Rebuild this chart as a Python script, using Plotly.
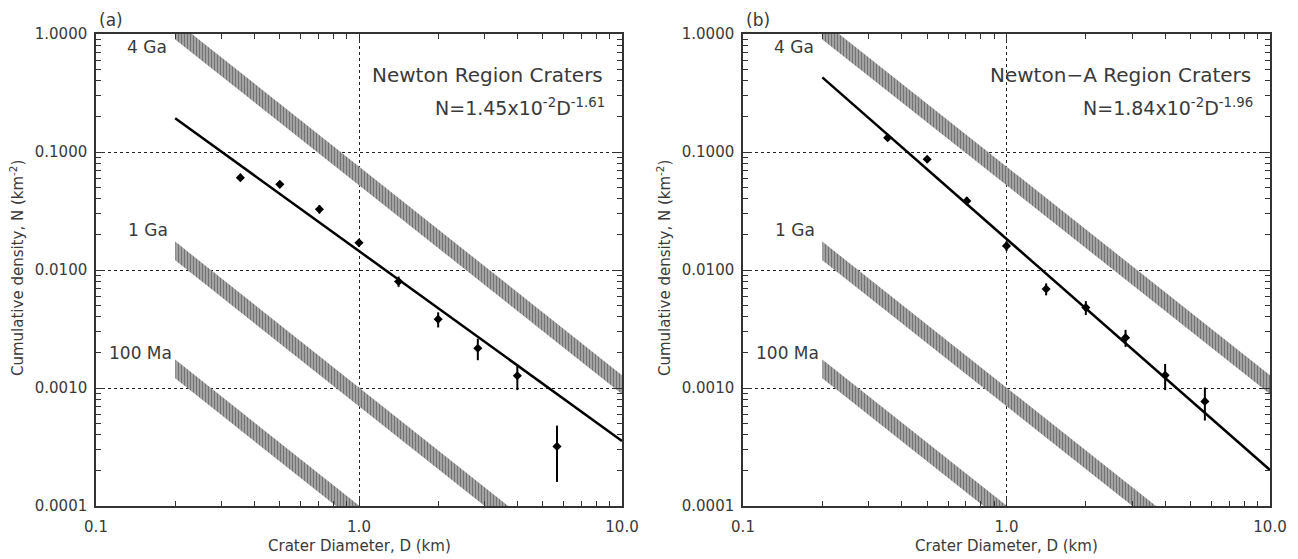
import plotly.graph_objects as go

# ---------------- data ----------------
D_bins = [0.354, 0.5, 0.707, 1.0, 1.414, 2.0, 2.83, 4.0, 5.66]

N_a = [0.0606, 0.0532, 0.0327, 0.0170, 0.0080, 0.00382, 0.00217, 0.00127, 0.00032]
err_a = [0.003, 0.003, 0.0026, 0.0012, 0.0008, 0.00056, 0.00045, 0.00031, 0.00016]

N_b = [0.132, 0.0867, 0.0385, 0.0160, 0.0069, 0.0048, 0.00267, 0.00128, 0.00077]
err_b = [0.007, 0.006, 0.003, 0.0015, 0.0008, 0.00065, 0.00044, 0.00032, 0.00024]

fit_D = [0.2, 10.0]
fit_a = [0.193, 3.56e-4]     # N = 1.45e-2 D^-1.61
fit_b = [0.429, 2.02e-4]     # N = 1.84e-2 D^-1.96

band_D = [0.2, 10.0]
band_4Ga = [1.08, 1.07e-3]
band_1Ga = [1.45e-2, 1.43e-5]
band_100Ma = [1.45e-3, 1.43e-6]
band_names = ["4 Ga", "1 Ga", "100 Ma"]

x_tickvals = [0.1, 1.0, 10.0]
x_ticktext = ["0.1", "1.0", "10.0"]
y_tickvals = [1.0, 0.1, 0.01, 0.001, 0.0001]
y_ticktext = ["1.0000", "0.1000", "0.0100", "0.0010", "0.0001"]

panel_labels = ["(a)", "(b)"]
panel_titles = ["Newton Region Craters", "Newton\u2212A Region Craters"]
panel_eqs = ["N=1.45x10<sup>-2</sup>D<sup>-1.61</sup>", "N=1.84x10<sup>-2</sup>D<sup>-1.96</sup>"]

# ---------------- style ----------------
W, H = 1298, 559
OFF = 8  # page body margin offset
TXT = "#3a3a3a"
FONT = "DejaVu Sans"
band_half = 1.2  # multiplicative half-width of isochron bands

def fx(p):
    return (p - OFF) / W

def fy(p):
    return 1 - (p - OFF) / H

fig = go.Figure()

x_minor = [m * 10 ** e for e in (-1, 0) for m in range(2, 10)]
y_minor = [m * 10 ** e for e in (-4, -3, -2, -1) for m in range(2, 10)]

def add_panel(idx, N, err, fit):
    xa = "x" if idx == 0 else "x2"
    ya = "y" if idx == 0 else "y2"
    for band in (band_4Ga, band_1Ga, band_100Ma):
        xs = [band_D[0], band_D[1], band_D[1], band_D[0], band_D[0]]
        ys = [band[0] * band_half, band[1] * band_half, band[1] / band_half,
              band[0] / band_half, band[0] * band_half]
        fig.add_trace(go.Scatter(
            x=xs, y=ys, xaxis=xa, yaxis=ya, mode="lines", fill="toself",
            line=dict(width=0, color="rgba(0,0,0,0)"),
            fillcolor="#a8a8a8",
            fillpattern=dict(shape="|", size=3, solidity=0.55,
                             fgcolor="#2e2e2e", bgcolor="#b8b8b8"),
            hoverinfo="skip", showlegend=False))
    fig.add_trace(go.Scatter(
        x=fit_D, y=fit, xaxis=xa, yaxis=ya, mode="lines",
        line=dict(color="black", width=2.5), showlegend=False))
    fig.add_trace(go.Scatter(
        x=D_bins, y=N, xaxis=xa, yaxis=ya, mode="markers",
        marker=dict(symbol="diamond", size=7, color="black"),
        error_y=dict(type="data", array=err, symmetric=True,
                     thickness=2, width=0, color="black"),
        showlegend=False))

add_panel(0, N_a, err_a, fit_a)
add_panel(1, N_b, err_b, fit_b)

px0 = [96, 743]
px1 = [622, 1270]
xdoms = [[fx(px0[0]), fx(px1[0])], [fx(px0[1]), fx(px1[1])]]
ydom = [fy(506), fy(34)]

common = dict(
    type="log", showline=True, linecolor="#333333", linewidth=1.5,
    mirror="ticks", ticks="inside", ticklen=9, tickcolor="#333333", tickwidth=1.2,
    showgrid=True, gridcolor="#222222", griddash="3px,3px", gridwidth=1,
    zeroline=False, automargin=False,
    tickfont=dict(family=FONT, size=15, color=TXT),
)

for i in range(2):
    sx = "" if i == 0 else "2"
    fig.update_layout(**{
        "xaxis" + sx: dict(common, domain=xdoms[i], range=[-1, 1],
                           tickmode="array", tickvals=x_tickvals, ticktext=x_ticktext,
                           anchor="y" + sx, ticklabelstandoff=6,
                           minor=dict(tickmode="array", tickvals=x_minor, ticks="inside",
                                      ticklen=5, tickcolor="#333333", showgrid=False)),
        "yaxis" + sx: dict(common, domain=ydom, range=[-4, 0],
                           tickmode="array", tickvals=y_tickvals, ticktext=y_ticktext,
                           anchor="x" + sx, ticklabelstandoff=4,
                           minor=dict(tickmode="array", tickvals=y_minor, ticks="inside",
                                      ticklen=5, tickcolor="#333333", showgrid=False)),
    })

ann = []
for i in range(2):
    ann.append(dict(text=panel_labels[i], xref="paper", yref="paper",
                    x=fx(px0[i] + 1), y=fy(20), xanchor="left", yanchor="middle",
                    showarrow=False, font=dict(family=FONT, size=17, color=TXT)))
    ann.append(dict(text=panel_titles[i], xref="paper", yref="paper",
                    x=fx(px1[i] - 17), y=fy(75), xanchor="right", yanchor="middle",
                    showarrow=False, font=dict(family=FONT, size=20, color=TXT)))
    ann.append(dict(text=panel_eqs[i], xref="paper", yref="paper",
                    x=fx(px1[i] - 15), y=fy(107), xanchor="right", yanchor="middle",
                    showarrow=False, font=dict(family=FONT, size=19, color=TXT)))
    for name, ypix, xpix in zip(band_names, [47, 230, 353], [125, 126, 107]):
        ann.append(dict(text=name, xref="paper", yref="paper",
                        x=fx(px0[i] + xpix - 96), y=fy(ypix),
                        xanchor="left", yanchor="middle", showarrow=False,
                        font=dict(family=FONT, size=17, color=TXT)))
    ann.append(dict(text="Cumulative density, N (km<sup>-2</sup>)", xref="paper", yref="paper",
                    x=fx(px0[i] - 79), y=fy(268), textangle=-90,
                    xanchor="center", yanchor="middle", showarrow=False,
                    font=dict(family=FONT, size=15, color=TXT)))
    ann.append(dict(text="Crater Diameter, D (km)", xref="paper", yref="paper",
                    x=fx((px0[i] + px1[i]) / 2), y=fy(546),
                    xanchor="center", yanchor="middle", showarrow=False,
                    font=dict(family=FONT, size=15, color=TXT)))

fig.update_layout(
    width=W, height=H, margin=dict(l=0, r=0, t=0, b=0),
    paper_bgcolor="white", plot_bgcolor="white",
    annotations=ann, showlegend=False,
)

fig.write_html("out.html")
